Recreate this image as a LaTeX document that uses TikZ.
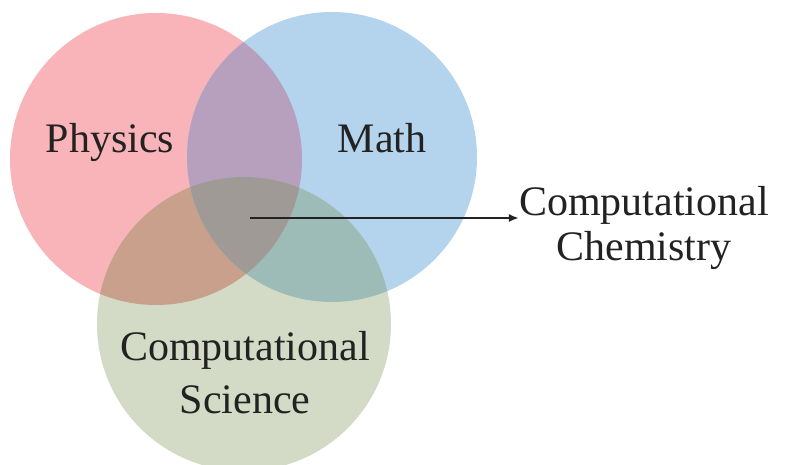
\documentclass[tikz,border=0pt]{standalone}
\usepackage{fontspec}
\setmainfont{Liberation Serif}
\usetikzlibrary{arrows.meta}
\definecolor{physfill}{HTML}{F8B4B8}
\definecolor{mathfill}{HTML}{B4D3EC}
\definecolor{compfill}{HTML}{D3DBC7}
\definecolor{physmath}{HTML}{B6A0BE}
\definecolor{physcomp}{HTML}{C8A08B}
\definecolor{mathcomp}{HTML}{9DBCB8}
\definecolor{allthree}{HTML}{A09A97}
\definecolor{inkdark}{HTML}{222222}
\begin{document}
\begin{tikzpicture}[x=1pt,y=-1pt,
  lbl/.style={font=\fontsize{42}{48}\selectfont, text=inkdark, inner sep=0pt, align=center},
  conn/.style={draw=inkdark, line width=2.4pt, -{Latex[length=10pt,width=8pt]}}]
\useasboundingbox (0,0) rectangle (786,465);
\clip (0,0) rectangle (786,465);
% circle centres and radii
\coordinate (cp) at (156,159);
\coordinate (cm) at (332,157);
\coordinate (cc) at (244,324);
\def\rp{146}\def\rm{145}\def\rc{147}
% single discs
\fill[physfill] (cp) circle[radius=\rp];
\fill[mathfill] (cm) circle[radius=\rm];
\fill[compfill] (cc) circle[radius=\rc];
% pairwise overlaps
\begin{scope}
  \clip (cp) circle[radius=\rp];
  \fill[physmath] (cm) circle[radius=\rm];
  \fill[physcomp] (cc) circle[radius=\rc];
\end{scope}
\begin{scope}
  \clip (cm) circle[radius=\rm];
  \fill[mathcomp] (cc) circle[radius=\rc];
\end{scope}
% triple overlap
\begin{scope}
  \clip (cp) circle[radius=\rp];
  \clip (cm) circle[radius=\rm];
  \fill[allthree] (cc) circle[radius=\rc];
\end{scope}
% labels (base anchor sits on the last line)
\node[lbl, anchor=base] (phys) at (110,153) {Physics};
\node[lbl, anchor=base] (math) at (382,153) {Math};
\node[lbl, anchor=base, font=\fontsize{42}{53}\selectfont] (csci) at (245,413) {Computational\\Science};
\node[lbl, anchor=base, font=\fontsize{42}{45}\selectfont] (chem) at (644,260) {Computational\\Chemistry};
% connector
\coordinate (src) at (250,218);
\draw[conn] (src) -- (src -| chem.west);
\end{tikzpicture}
\end{document}
